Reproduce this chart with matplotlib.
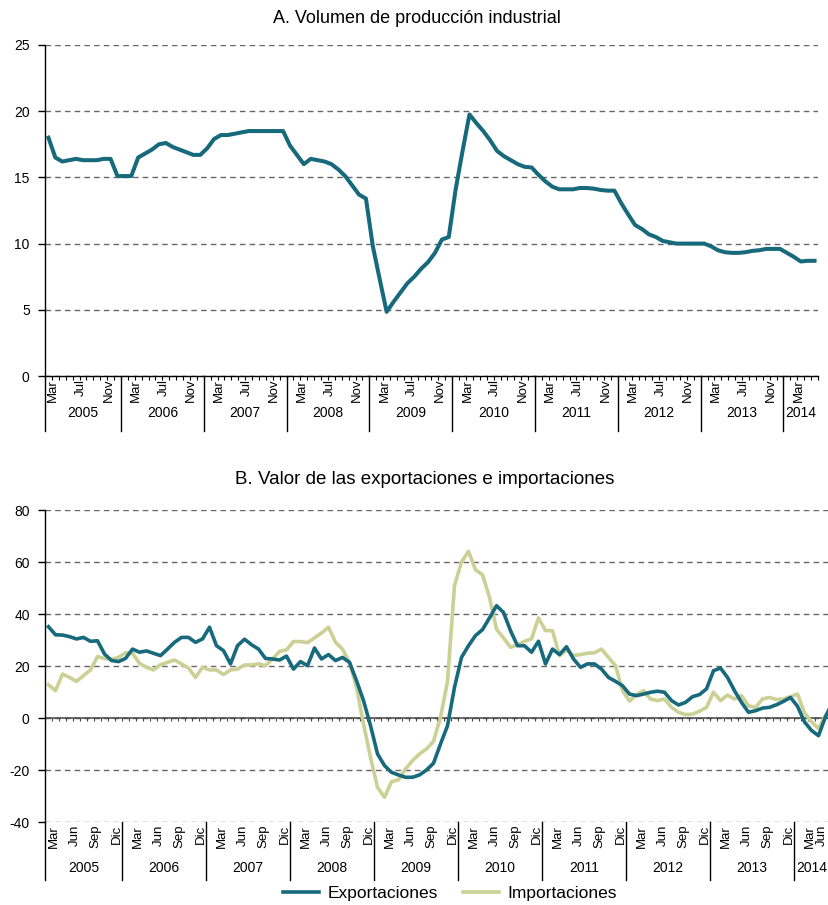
import numpy as np
import matplotlib.pyplot as plt

plt.rcParams['font.family'] = ['Liberation Sans', 'DejaVu Sans']
plt.rcParams['axes.unicode_minus'] = False

# A. produccion industrial, mensual desde feb 2005 hasta may 2014
produccion = [18.0, 16.5, 16.2, 16.3, 16.4, 16.3, 16.3, 16.3, 16.4, 16.4,
              15.1, 15.1, 15.1, 16.5, 16.8, 17.1, 17.5, 17.6, 17.3, 17.1,
              16.9, 16.7, 16.7, 17.2, 17.9, 18.2, 18.2, 18.3, 18.4, 18.5,
              18.5, 18.5, 18.5, 18.5, 18.5, 17.4, 16.7, 16.0, 16.4, 16.3,
              16.2, 16.0, 15.6, 15.1, 14.4, 13.7, 13.4, 9.8, 7.3, 4.85,
              5.6, 6.3, 7.0, 7.5, 8.1, 8.6, 9.3, 10.3, 10.5, 14.1,
              17.0, 19.75, 19.1, 18.5, 17.8, 17.0, 16.6, 16.3, 16.0, 15.8,
              15.75, 15.2, 14.7, 14.3, 14.1, 14.1, 14.1, 14.2, 14.2, 14.15,
              14.05, 14.0, 14.0, 13.05, 12.2, 11.4, 11.1, 10.7, 10.5, 10.2,
              10.1, 10.0, 10.0, 10.0, 10.0, 10.0, 9.8, 9.5, 9.35, 9.3,
              9.3, 9.35, 9.45, 9.5, 9.6, 9.6, 9.6, 9.3, 9.0, 8.65,
              8.7, 8.7]

# B. exportaciones e importaciones, feb 2005 hasta jun 2014
exportaciones = [35.1, 32.0, 31.9, 31.3, 30.4, 31.0, 29.5, 29.7, 24.6, 22.1,
                 21.7, 22.9, 26.5, 25.3, 25.8, 24.9, 24.0, 26.5, 29.1, 31.0,
                 31.0, 29.1, 30.4, 34.9, 27.8, 25.9, 20.8, 27.8, 30.3, 28.2,
                 26.5, 22.9, 22.7, 22.3, 23.8, 18.8, 21.7, 20.1, 26.9, 22.7,
                 24.4, 22.1, 23.3, 21.4, 14.4, 6.7, -2.9, -13.8, -18.3, -20.9,
                 -21.9, -22.8, -22.8, -21.9, -20.0, -17.4, -10.0, -3.0, 11.8, 23.3,
                 27.8, 31.7, 34.0, 38.5, 43.2, 40.6, 33.6, 27.8, 27.8, 25.3,
                 29.5, 20.8, 26.5, 24.4, 27.4, 22.7, 19.5, 20.8, 20.8, 18.8,
                 15.6, 14.1, 12.4, 9.2, 8.6, 9.2, 9.9, 10.3, 9.9, 6.7,
                 5.0, 6.0, 8.2, 9.0, 11.2, 18.2, 19.2, 15.6, 10.5, 6.0,
                 2.2, 2.8, 3.8, 4.1, 5.1, 6.4, 7.9, 4.5, -1.5, -4.8,
                 -6.8, 0.5, 6.0]
importaciones = [12.8, 10.5, 16.9, 15.6, 14.1, 16.3, 18.5, 23.6, 22.9, 22.6,
                 23.3, 25.1, 24.9, 21.0, 19.5, 18.5, 20.5, 21.4, 22.3, 20.8,
                 19.2, 15.6, 19.5, 18.5, 18.5, 16.7, 18.5, 18.8, 20.4, 20.4,
                 20.8, 20.1, 22.7, 25.6, 26.2, 29.4, 29.4, 29.0, 30.8, 32.7,
                 34.9, 29.1, 26.5, 21.4, 11.8, -2.3, -15.1, -26.7, -30.5, -24.5,
                 -23.8, -19.6, -16.4, -13.8, -11.9, -9.0, 0.3, 14.0, 51.0, 60.0,
                 64.1, 57.0, 55.1, 46.4, 34.2, 30.8, 27.2, 28.1, 29.5, 30.4,
                 38.5, 33.6, 33.6, 24.0, 26.2, 24.0, 24.4, 24.9, 25.1, 26.5,
                 23.3, 20.1, 10.5, 6.5, 9.0, 10.5, 7.3, 6.7, 7.3, 4.1,
                 2.2, 1.3, 1.5, 2.6, 4.1, 9.9, 6.7, 8.8, 7.3, 8.6,
                 4.7, 4.1, 7.3, 7.9, 7.1, 7.3, 8.2, 9.2, 2.0, -1.5,
                 -4.0, 1.0, 4.0]

anios = list(range(2005, 2015))
meses_a = ['Mar', 'Jul', 'Nov']
meses_b = ['Mar', 'Jun', 'Sep', 'Dic']
num_mes_a = [3, 7, 11]
num_mes_b = [3, 6, 9, 12]

azul = '#17697c'
verde = '#cbd095'
gris = '#666666'

W, H = 829, 905
fig = plt.figure(figsize=(W / 100, H / 100), dpi=100)


def pos(x0, y0, x1, y1):
    # pixel box -> figure fraction
    return [x0 / W, 1 - y1 / H, (x1 - x0) / W, (y1 - y0) / H]


def mes(anio, m):
    # month index, 0 = feb 2005
    return (anio - 2005) * 12 + (m - 2)


def eje_fechas(ax, n, meses, nums, y_mes, y_anio, y_sep):
    tr = ax.get_xaxis_transform()
    ax.set_xticks([])
    # year separators
    seps = [0] + [mes(a, 1) for a in anios[1:]]
    for s in seps:
        ax.plot([s, s], [0, y_sep], color='black', lw=1.0, transform=tr, clip_on=False)
    # month labels
    for a in anios:
        for nombre, m in zip(meses, nums):
            x = mes(a, m) + 0.2
            if x > n + 0.5:
                continue
            x = min(x, n - 1.0)  # keep the last label inside the picture
            ax.text(x, y_mes, nombre, rotation=90, ha='center', va='top',
                    fontsize=9.5, transform=tr, clip_on=False)
    # year labels
    bordes = seps + [n]
    for i, a in enumerate(anios):
        xc = (bordes[i] + bordes[i + 1]) / 2
        ax.text(xc, y_anio, str(a), ha='center', va='center', fontsize=10,
                transform=tr)


# ---------------- A ----------------
ax1 = fig.add_axes(pos(45, 45, 818, 376))
x_a = np.arange(len(produccion)) + 0.5
ax1.plot(x_a, produccion, color=azul, lw=2.9, solid_joinstyle='round', zorder=3)
ax1.set_xlim(0, 112)
ax1.set_ylim(0, 25)
ax1.set_yticks(np.arange(0, 26, 5))
ax1.yaxis.grid(True, color=gris, lw=1.0, linestyle=(0, (4, 3)))
ax1.set_axisbelow(True)
for s in ['top', 'right']:
    ax1.spines[s].set_visible(False)
ax1.spines['left'].set_linewidth(1.0)
ax1.spines['bottom'].set_linewidth(1.0)
ax1.tick_params(axis='y', length=5, width=1.0, labelsize=10, pad=6)
ax1.set_xticks(np.arange(0, 113), minor=True)
ax1.tick_params(axis='x', which='minor', length=3, width=0.8)
ax1.set_title('A. Volumen de producción industrial', fontsize=13, pad=16, x=0.481)
eje_fechas(ax1, 112, meses_a, num_mes_a, -0.009, -0.112, -0.165)

# ---------------- B ----------------
ax2 = fig.add_axes(pos(45, 510, 829, 822))
x_b = np.arange(len(exportaciones)) + 0.5
ax2.plot(x_b, exportaciones, color=azul, lw=2.6, solid_joinstyle='round',
         zorder=4, label='Exportaciones')
ax2.plot(x_b, importaciones, color=verde, lw=2.6, solid_joinstyle='round',
         zorder=3, label='Importaciones')
ax2.set_xlim(0, 112)
ax2.set_ylim(-40, 80)
ax2.set_yticks(np.arange(-40, 81, 20))
ax2.yaxis.grid(True, color=gris, lw=1.0, linestyle=(0, (4, 3)))
ax2.set_axisbelow(True)
for s in ['top', 'right', 'bottom']:
    ax2.spines[s].set_visible(False)
ax2.spines['left'].set_linewidth(1.0)
ax2.tick_params(axis='y', length=5, width=1.0, labelsize=10, pad=6)
# zero line with month ticks
ax2.axhline(0, color='#444444', lw=1.1, zorder=2)
ax2.vlines(np.arange(0, 113), -1.3, 0, color='#444444', lw=0.8, zorder=2)
ax2.set_title('B. Valor de las exportaciones e importaciones', fontsize=13.5,
              pad=19, x=0.484)
eje_fechas(ax2, 112, meses_b, num_mes_b, -0.009, -0.147, -0.186)

fig.legend(loc='center', bbox_to_anchor=(450 / W, 1 - 893 / H), ncol=2,
           frameon=False, fontsize=12.5, handlelength=2.1, handletextpad=0.5,
           columnspacing=1.4)

fig.savefig('out.png', dpi=100)
